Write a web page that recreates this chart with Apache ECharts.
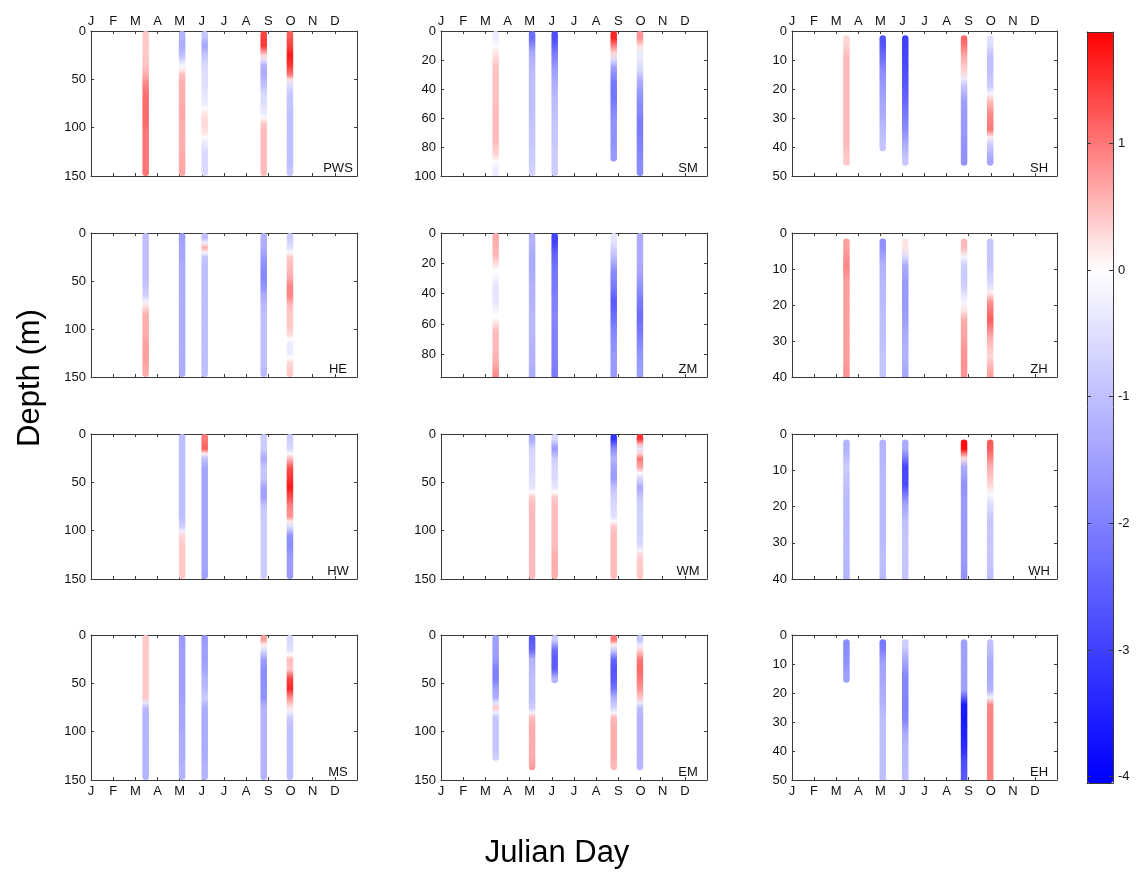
<!DOCTYPE html>
<html><head><meta charset="utf-8">
<script src="https://cdn.jsdelivr.net/npm/echarts@6/dist/echarts.min.js"></script>
<style>html,body{margin:0;padding:0;background:#fff}#c{width:1139px;height:872px}</style>
</head><body><div id="c"></div>
<script>
// ---------------- DATA ----------------
const months = ['J','F','M','A','M','J','J','A','S','O','N','D'];
const stations = ['PWS','SM','SH','HE','ZM','ZH','HW','WM','WH','MS','EM','EH'];
const depthMax = [150,100,50,150,95,40,150,150,40,150,150,50];
const depthTick = [50,20,10,50,20,10,50,50,10,50,50,10];
const castDays = [75,125,156,237,273];   // Mar, May, Jun, Sep, Oct casts
const colorTicks = [-4,-3,-2,-1,0,1];

// depth bin tops (m)
const lv150 = [0,10,20,30,40,50,60,70,80,90,100,110,120,130,140];
const lv100 = [0,10,20,30,40,50,60,70,80,90];
const lv50  = [1.5,6.5,11.5,16.5,21.5,26.5,31.5,36.5,41.5,46.5];
const lv40  = [1.5,6.5,11.5,16.5,21.5,26.5,31.5,36.5];
const levelsByStation = [lv150,lv100,lv50,lv150,lv100,lv40,lv150,lv150,lv40,lv150,lv150,lv50];

// anomaly profiles per station: [Mar, May, Jun, Sep, Oct]
const PWS = [
  [0.4,0.4,0.4,0.45,0.6,0.9,1.05,1.1,1.1,1.1,1.0,1.0,1.0,1.0,1.05],
  [-1.2,-1.3,-1.0,-0.2,0.5,0.6,0.6,0.6,0.65,0.6,0.6,0.6,0.6,0.65,0.65],
  [-0.9,-1.4,-0.9,-0.6,-0.5,-0.5,-0.4,-0.3,0.2,0.3,0.2,-0.3,-0.6,-0.6,-0.6],
  [1.4,1.5,0.3,-1.2,-1.3,-1.0,-0.6,-0.5,-0.3,0.4,0.5,0.5,0.5,0.5,0.5],
  [1.2,1.4,1.7,1.5,1.0,-0.5,-0.9,-0.9,-1.0,-1.0,-1.0,-1.0,-1.0,-1.0,-0.9]
];
const SM = [
  [-0.3,0.2,0.45,0.45,0.45,0.5,0.5,0.5,0.3,-0.3],
  [-2.3,-1.3,-1.1,-1.0,-1.0,-1.0,-0.9,-0.9,-0.8,-0.7],
  [-2.8,-2.1,-1.6,-1.3,-1.1,-1.0,-0.9,-0.9,-0.8,-0.8],
  [1.6,0.3,-1.5,-2.1,-2.2,-1.9,-1.7,-1.7,-1.6,null],
  [0.8,-0.3,-0.5,-1.3,-1.7,-1.9,-2.1,-2.0,-1.9,-1.8]
];
const SH = [
  [0.3,0.5,0.5,0.5,0.5,0.5,0.5,0.5,0.4,null],
  [-2.7,-2.3,-1.8,-1.6,-1.4,-1.3,-1.1,-0.9,null,null],
  [-3.0,-2.9,-2.8,-2.6,-2.4,-2.1,-1.8,-1.3,-0.9,null],
  [1.1,0.6,0.3,-0.9,-1.5,-1.6,-1.6,-1.7,-1.7,null],
  [-0.5,-1.0,-1.0,-0.8,0.5,0.9,1.0,-0.8,-1.4,null]
];
const HE = [
  [-1.0,-1.0,-1.0,-1.0,-1.0,-0.9,-0.7,0.2,0.6,0.6,0.6,0.7,0.7,0.7,0.6],
  [-1.5,-1.4,-1.4,-1.3,-1.3,-1.3,-1.3,-1.3,-1.3,-1.3,-1.3,-1.3,-1.3,-1.3,-1.3],
  [-1.0,0.6,-0.9,-1.0,-1.0,-1.0,-1.0,-1.0,-1.0,-1.0,-1.0,-1.0,-1.0,-1.0,-1.0],
  [-1.2,-1.3,-1.6,-1.8,-1.9,-1.7,-1.3,-1.1,-1.0,-1.0,-1.0,-1.0,-1.0,-1.0,-1.1],
  [-0.8,-0.5,0.4,0.5,0.6,0.9,0.9,0.5,0.4,0.4,0.3,-0.3,-0.3,0.3,0.4]
];
const ZM = [
  [0.6,0.5,0.0,-0.4,-0.4,0.0,0.5,0.5,0.6,0.9],
  [-1.2,-1.3,-1.3,-1.2,-1.2,-1.1,-1.1,-1.2,-1.2,-1.3],
  [-3.0,-2.4,-2.2,-2.1,-2.0,-1.9,-2.0,-2.0,-2.0,-2.1],
  [-0.4,-1.0,-1.8,-2.1,-2.6,-2.3,-1.9,-1.7,-1.6,-1.6],
  [-1.3,-1.3,-1.4,-1.7,-2.1,-2.3,-2.1,-1.8,-1.6,-1.5]
];
const ZH = [
  [0.7,0.9,0.7,0.7,0.7,0.7,0.7,0.8],
  [-1.7,-1.2,-1.1,-1.1,-1.0,-1.0,-0.9,-0.9],
  [0.2,-1.3,-1.6,-1.6,-1.5,-1.3,-1.2,-1.4],
  [0.5,-0.8,-0.8,-0.2,0.6,0.7,0.8,0.8],
  [-0.9,-0.9,-0.6,0.8,1.2,0.6,0.3,0.7]
];
const HW = [
  null,
  [-1.0,-1.0,-1.0,-1.0,-1.0,-1.0,-1.0,-1.0,-1.0,-0.8,0.3,0.4,0.4,0.4,0.4],
  [1.0,1.2,-1.0,-1.4,-1.4,-1.4,-1.4,-1.4,-1.4,-1.4,-1.4,-1.4,-1.4,-1.4,-1.5],
  [-0.8,-0.8,-1.3,-0.9,-0.9,-1.4,-1.5,-0.9,-0.8,-0.8,-0.8,-0.8,-0.8,-0.8,-0.8],
  [-0.8,-0.6,0.5,1.3,1.5,1.7,1.3,0.9,0.8,-0.5,-1.7,-1.8,-1.6,-1.5,-1.6]
];
const WM = [
  null,
  [-1.3,-0.7,-0.6,-0.6,-0.5,-0.4,0.4,0.5,0.5,0.5,0.5,0.5,0.5,0.5,0.5],
  [-0.6,-1.6,-0.8,-0.6,-0.6,-0.4,0.4,0.5,0.5,0.5,0.5,0.5,0.6,0.6,0.6],
  [-3.2,-1.8,-1.2,-1.5,-1.6,-1.0,-0.7,-0.6,-0.5,0.4,0.5,0.5,0.5,0.5,0.5],
  [1.5,-0.4,1.0,0.6,-0.6,-1.3,-0.9,-0.7,-0.7,-0.7,-0.7,-0.6,0.3,0.4,0.4]
];
const WH = [
  [-1.2,-0.8,-1.0,-1.1,-1.1,-1.1,-1.1,-1.2],
  [-1.2,-1.1,-1.1,-1.1,-1.1,-1.1,-1.0,-1.1],
  [-1.3,-2.9,-2.8,-1.5,-1.0,-0.9,-0.9,-0.9],
  [1.8,-1.3,-1.7,-1.6,-1.6,-1.6,-1.6,-1.7],
  [1.2,0.6,0.3,-0.5,-0.9,-0.9,-0.9,-1.0]
];
const MS = [
  [0.4,0.4,0.4,0.4,0.4,0.4,0.4,-1.1,-1.2,-1.2,-1.2,-1.2,-1.2,-1.2,-1.2],
  [-1.6,-1.5,-1.5,-1.5,-1.5,-1.5,-1.5,-1.4,-1.4,-1.4,-1.3,-1.3,-1.3,-1.2,-1.2],
  [-1.6,-1.5,-1.5,-1.4,-1.2,-1.1,-0.8,-1.3,-1.3,-1.3,-1.3,-1.3,-1.3,-1.2,-1.2],
  [0.7,-0.5,-1.5,-1.8,-1.8,-1.7,-1.7,-1.2,-1.2,-1.2,-1.2,-1.2,-1.2,-1.2,-1.2],
  [-0.6,-0.5,0.5,0.4,1.4,1.6,0.8,0.2,-0.8,-1.0,-1.0,-1.0,-1.0,-1.0,-1.0]
];
const EM = [
  [-1.5,-1.5,-1.6,-2.0,-2.0,-1.5,-1.2,0.4,-0.9,-0.9,-0.9,-0.9,-0.8,null,null],
  [-2.6,-2.4,-1.2,-1.1,-1.0,-1.0,-1.0,-0.8,0.5,0.6,0.6,0.6,0.6,0.7,null],
  [-0.8,-2.3,-2.6,-2.5,-1.2,null,null,null,null,null,null,null,null,null,null],
  [1.0,-0.8,-2.4,-2.7,-2.6,-2.2,-1.2,-0.7,0.5,0.6,0.6,0.6,0.6,0.5,null],
  [-0.9,0.3,1.0,1.1,1.0,0.8,0.4,-1.0,-1.2,-1.2,-1.2,-1.2,-1.2,-1.1,null]
];
const EH = [
  [-1.8,-1.7,-1.5,null,null,null,null,null,null,null],
  [-2.1,-1.5,-1.4,-1.3,-1.2,-1.0,-1.0,-1.0,-1.0,-1.0],
  [-0.8,-1.4,-1.9,-1.9,-2.0,-1.9,-1.3,-1.1,-1.1,-1.0],
  [-1.5,-1.5,-1.5,-1.5,-3.6,-3.6,-3.5,-3.3,-2.8,-2.6],
  [-1.0,-1.3,-1.3,-1.2,0.9,0.9,0.9,0.9,0.9,0.9]
];
const profiles = [PWS,SM,SH,HE,ZM,ZH,HW,WM,WH,MS,EM,EH];

// ---------------- LAYOUT / STYLE ----------------
const FONT = '"Liberation Sans", Arial, Helvetica, sans-serif';
const colLeft = [91, 441, 792];
const colWidth = [266, 266, 265];
const rowTop = [31, 233, 434, 635];
const rowHeight = [145, 144, 145, 145];
const STRIP_W = 6.5;
const AXC = '#3a3a3a';
const CMIN = -4.05, CMAX = 1.88;
const CB = {left: 1087, top: 32, width: 26, height: 751};
const NCOL = 240;

function rgbOf(v) {
  let r, g, b;
  if (v < 0) { const t = Math.min(1, -v / 4); r = g = Math.round(255 * (1 - t)); b = 255; }
  else { const t = Math.min(1, v / CMAX); r = 255; g = b = Math.round(255 * (1 - t)); }
  return 'rgb(' + r + ',' + g + ',' + b + ')';
}
const cmap = [];
for (let k = 0; k <= NCOL; k++) cmap.push(rgbOf(CMIN + (CMAX - CMIN) * k / NCOL));

function buildData(levels, casts) {
  const step = levels[1] - levels[0];
  const out = [];
  casts.forEach((vals, ci) => {
    if (!vals) return;
    const idx = [];
    vals.forEach((v, i) => { if (v != null) idx.push(i); });
    const first = idx[0], last = idx[idx.length - 1];
    vals.forEach((v, i) => {
      if (v == null) return;
      const prev = i === first ? v : vals[i - 1];
      const next = i === last ? v : vals[i + 1];
      out.push([castDays[ci], levels[i], levels[i] + step, v, i === first ? 1 : 0, i === last ? 1 : 0, prev, next]);
    });
  });
  return out;
}

function renderCell(params, api) {
  const p0 = api.coord([api.value(0), api.value(1)]);
  const p1 = api.coord([api.value(0), api.value(2)]);
  const w = STRIP_W;
  const rt = api.value(4) ? w / 2 : 0;
  const rb = api.value(5) ? w / 2 : 0;
  const v = api.value(3), pv = api.value(6), nv = api.value(7);
  return {
    type: 'rect',
    shape: {x: p0[0] - w / 2, y: p0[1], width: w, height: (p1[1] - p0[1]) + (rb ? 0 : 0.6), r: [rt, rt, rb, rb]},
    style: {fill: {type: 'linear', x: 0, y: 0, x2: 0, y2: 1, colorStops: [
      {offset: 0, color: rgbOf((pv + v) / 2)},
      {offset: 0.5, color: api.visual('color')},
      {offset: 1, color: rgbOf((v + nv) / 2)}
    ]}}
  };
}

const grids = [], xAxes = [], yAxes = [], series = [], graphics = [];
const monthStep = 365 / 12;

stations.forEach((name, i) => {
  const r = Math.floor(i / 3), c = i % 3;
  const g = {left: colLeft[c], top: rowTop[r], width: colWidth[c], height: rowHeight[r]};
  grids.push(g);
  const xBase = {
    type: 'value', gridIndex: i, min: 0, max: 365, interval: monthStep,
    axisLine: {show: true, onZero: false, lineStyle: {color: AXC, width: 1}},
    axisTick: {show: true, inside: true, length: 3, lineStyle: {color: AXC}},
    splitLine: {show: false},
    axisLabel: {fontFamily: FONT, fontSize: 13, color: '#111',
      formatter: v => months[Math.round(v / monthStep)] || ''}
  };
  xAxes.push(Object.assign({}, xBase, {position: 'bottom',
    axisLabel: Object.assign({}, xBase.axisLabel, {show: r === 3, margin: 5})}));
  xAxes.push(Object.assign({}, xBase, {position: 'top',
    axisLabel: Object.assign({}, xBase.axisLabel, {show: r === 0, margin: 3})}));
  const dInt = depthTick[i];
  const yBase = {
    type: 'value', gridIndex: i, inverse: true, min: 0, max: depthMax[i], interval: dInt,
    axisLine: {show: true, onZero: false, lineStyle: {color: AXC, width: 1}},
    axisTick: {show: true, inside: true, length: 3, lineStyle: {color: AXC}},
    splitLine: {show: false}
  };
  yAxes.push(Object.assign({}, yBase, {position: 'left',
    axisLabel: {show: true, fontFamily: FONT, fontSize: 13, color: '#111', margin: 5,
      formatter: v => (Math.abs(v / dInt - Math.round(v / dInt)) < 1e-6 ? String(v) : '')}}));
  yAxes.push(Object.assign({}, yBase, {position: 'right', axisLabel: {show: false}}));
  series.push({
    type: 'custom', name: name, xAxisIndex: 2 * i, yAxisIndex: 2 * i,
    coordinateSystem: 'cartesian2d', clip: true, silent: true,
    encode: {x: 0, y: [1, 2]},
    renderItem: renderCell,
    data: buildData(levelsByStation[i], profiles[i])
  });
  graphics.push({
    type: 'text', x: g.left + 247, y: g.top + g.height - 8, silent: true,
    style: {text: name, font: '13px ' + FONT, fill: '#111', align: 'center', verticalAlign: 'middle',
      textAlign: 'center', textVerticalAlign: 'middle'}
  });
});

// colorbar frame + ticks (grid 12)
grids.push({left: CB.left, top: CB.top, width: CB.width, height: CB.height, z: 10});
const cbX = {type: 'value', gridIndex: 12, min: 0, max: 1, z: 10,
  axisLine: {show: true, onZero: false, lineStyle: {color: AXC}},
  axisTick: {show: false}, axisLabel: {show: false}, splitLine: {show: false}};
xAxes.push(Object.assign({}, cbX, {position: 'bottom'}));
xAxes.push(Object.assign({}, cbX, {position: 'top'}));
const cbY = {type: 'value', gridIndex: 12, min: CMIN, max: CMAX, z: 10,
  axisLine: {show: true, onZero: false, lineStyle: {color: AXC}},
  axisTick: {show: true, inside: true, length: 4, customValues: colorTicks, lineStyle: {color: AXC}},
  splitLine: {show: false}};
yAxes.push(Object.assign({}, cbY, {position: 'left', axisLabel: {show: false}}));
yAxes.push(Object.assign({}, cbY, {position: 'right',
  axisLabel: {show: true, customValues: colorTicks, fontFamily: FONT, fontSize: 13, color: '#111', margin: 5}}));

graphics.push({
  type: 'text', x: 30, y: 378, rotation: Math.PI / 2, silent: true,
  style: {text: 'Depth (m)', font: '31px ' + FONT, fill: '#000', align: 'center', verticalAlign: 'middle',
    textAlign: 'center', textVerticalAlign: 'middle'}
});
graphics.push({
  type: 'text', x: 557, y: 853, silent: true,
  style: {text: 'Julian Day', font: '31px ' + FONT, fill: '#000', align: 'center', verticalAlign: 'middle',
    textAlign: 'center', textVerticalAlign: 'middle'}
});

const option = {
  backgroundColor: '#ffffff',
  animation: false,
  grid: grids,
  xAxis: xAxes,
  yAxis: yAxes,
  visualMap: {
    type: 'continuous', show: true, seriesIndex: series.map((s, k) => k), dimension: 3,
    min: CMIN, max: CMAX, orient: 'vertical', left: CB.left, top: CB.top,
    itemWidth: CB.width, itemHeight: CB.height, padding: 0, calculable: false,
    hoverLink: false, inRange: {color: cmap}, z: 2
  },
  series: series,
  graphic: graphics
};
const chart = echarts.init(document.getElementById('c'));
chart.setOption(option);
</script></body></html>
